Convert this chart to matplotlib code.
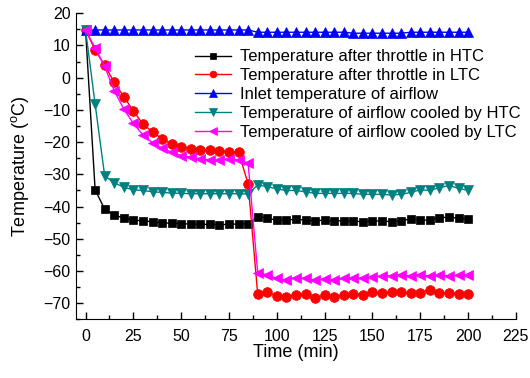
import numpy as np
import matplotlib
matplotlib.use('Agg')
import matplotlib.pyplot as plt

plt.rcParams['font.family'] = ['Liberation Sans', 'DejaVu Sans']
plt.rcParams['mathtext.fontset'] = 'custom'
plt.rcParams['mathtext.rm'] = 'Liberation Sans'

# time in minutes, one reading every 5 min
time = np.arange(0, 205, 5)

htc_throttle = [14.8, -34.8, -40.8, -42.6, -43.6, -44.2, -44.4, -44.7, -45.0, -45.2,
                -45.3, -45.4, -45.5, -45.5, -45.6, -45.5, -45.4, -45.3,
                -43.1, -43.6, -44.2, -44.2, -43.9, -44.2, -44.4, -44.2, -44.4, -44.4,
                -44.5, -44.7, -44.5, -44.4, -44.7, -44.4, -43.8, -44.2, -44.2, -43.4,
                -43.3, -43.6, -43.8]

ltc_throttle = [14.8, 8.6, 3.8, -1.4, -5.9, -10.3, -14.4, -16.8, -19.0, -20.6,
                -21.6, -22.0, -22.3, -22.5, -22.7, -23.0, -23.1, -33.0,
                -67.2, -66.6, -67.7, -67.9, -67.3, -67.2, -68.5, -67.3, -68.2, -67.3,
                -67.0, -67.3, -66.6, -66.9, -66.6, -66.6, -66.9, -66.7, -65.9, -66.9,
                -66.9, -67.0, -67.0]

inlet_air = [14.8, 14.8, 14.8, 14.8, 14.8, 14.8, 14.8, 14.8, 14.8, 14.8,
             14.8, 14.8, 14.8, 14.8, 14.8, 14.8, 14.8, 14.8,
             14.1, 14.1, 14.1, 14.1, 14.1, 14.1, 14.1, 14.1, 14.1, 14.1,
             13.8, 13.8, 13.8, 13.8, 13.8, 13.8, 14.1, 14.1, 14.1, 14.1,
             14.1, 14.1, 14.1]

htc_air = [14.8, -8.2, -30.5, -32.6, -34.0, -34.8, -35.0, -35.4, -35.6, -35.8,
           -35.9, -36.0, -36.0, -36.0, -36.0, -36.0, -36.0, -36.1,
           -33.3, -33.8, -34.5, -35.0, -35.0, -35.4, -35.9, -35.9, -35.9, -35.9,
           -35.9, -36.2, -36.2, -36.2, -36.4, -36.2, -35.6, -34.8, -35.0, -34.1,
           -33.5, -34.3, -35.0]

ltc_air = [14.8, 9.2, 3.5, -4.1, -9.7, -14.2, -17.8, -20.2, -21.9, -23.1,
           -24.2, -24.7, -25.2, -25.5, -25.5, -25.3, -25.5, -26.6,
           -60.5, -61.2, -62.3, -62.8, -62.0, -62.3, -62.8, -62.5, -62.8, -62.3,
           -62.0, -62.3, -61.8, -61.5, -61.5, -61.3, -61.5, -61.3, -61.5, -61.3,
           -61.5, -61.3, -61.3]

labels = ['Temperature after throttle in HTC',
          'Temperature after throttle in LTC',
          'Inlet temperature of airflow',
          'Temperature of airflow cooled by HTC',
          'Temperature of airflow cooled by LTC']
colors = ['black', '#FF0000', '#0000FF', '#008080', '#FF00FF']
markers = ['s', 'o', '^', 'v', '<']
sizes = [6, 7, 7.5, 7.5, 7.5]

fig = plt.figure(figsize=(5.3, 3.78), dpi=100)
ax = fig.add_axes([0.1434, 0.155, 0.830, 0.81])

series = [htc_throttle, ltc_throttle, inlet_air, htc_air, ltc_air]
for y, lab, c, m, s in zip(series, labels, colors, markers, sizes):
    ax.plot(time, y, color=c, marker=m, markersize=s, linewidth=1.0,
            markeredgewidth=0.5, label=lab)

ax.set_xlim(-5, 225)
ax.set_ylim(-75, 20)
ax.set_xticks(np.arange(0, 226, 25))
ax.set_xticks(np.arange(0, 226, 12.5), minor=True)
ax.set_yticks(np.arange(-70, 21, 10))
ax.set_yticks(np.arange(-75, 21, 5), minor=True)
ax.spines['top'].set_visible(False)
ax.spines['right'].set_visible(False)
ax.tick_params(which='major', direction='in', length=5, width=1, labelsize=11.5, pad=4)
ax.tick_params(axis='x', which='major', pad=7)
ax.tick_params(which='minor', direction='in', length=3, width=1)

ax.set_xlabel('Time (min)', fontsize=13, labelpad=0)
ax.set_ylabel(r'Temperature ($^\mathregular{o}$C)', fontsize=13, labelpad=9)

ax.legend(loc='upper left', bbox_to_anchor=(0.27, 0.882), frameon=False,
          fontsize=12, handlelength=2.15, handletextpad=0.55, labelspacing=0.23,
          markerscale=0.7, borderpad=0, borderaxespad=0)

fig.savefig('out.png', dpi=100)
